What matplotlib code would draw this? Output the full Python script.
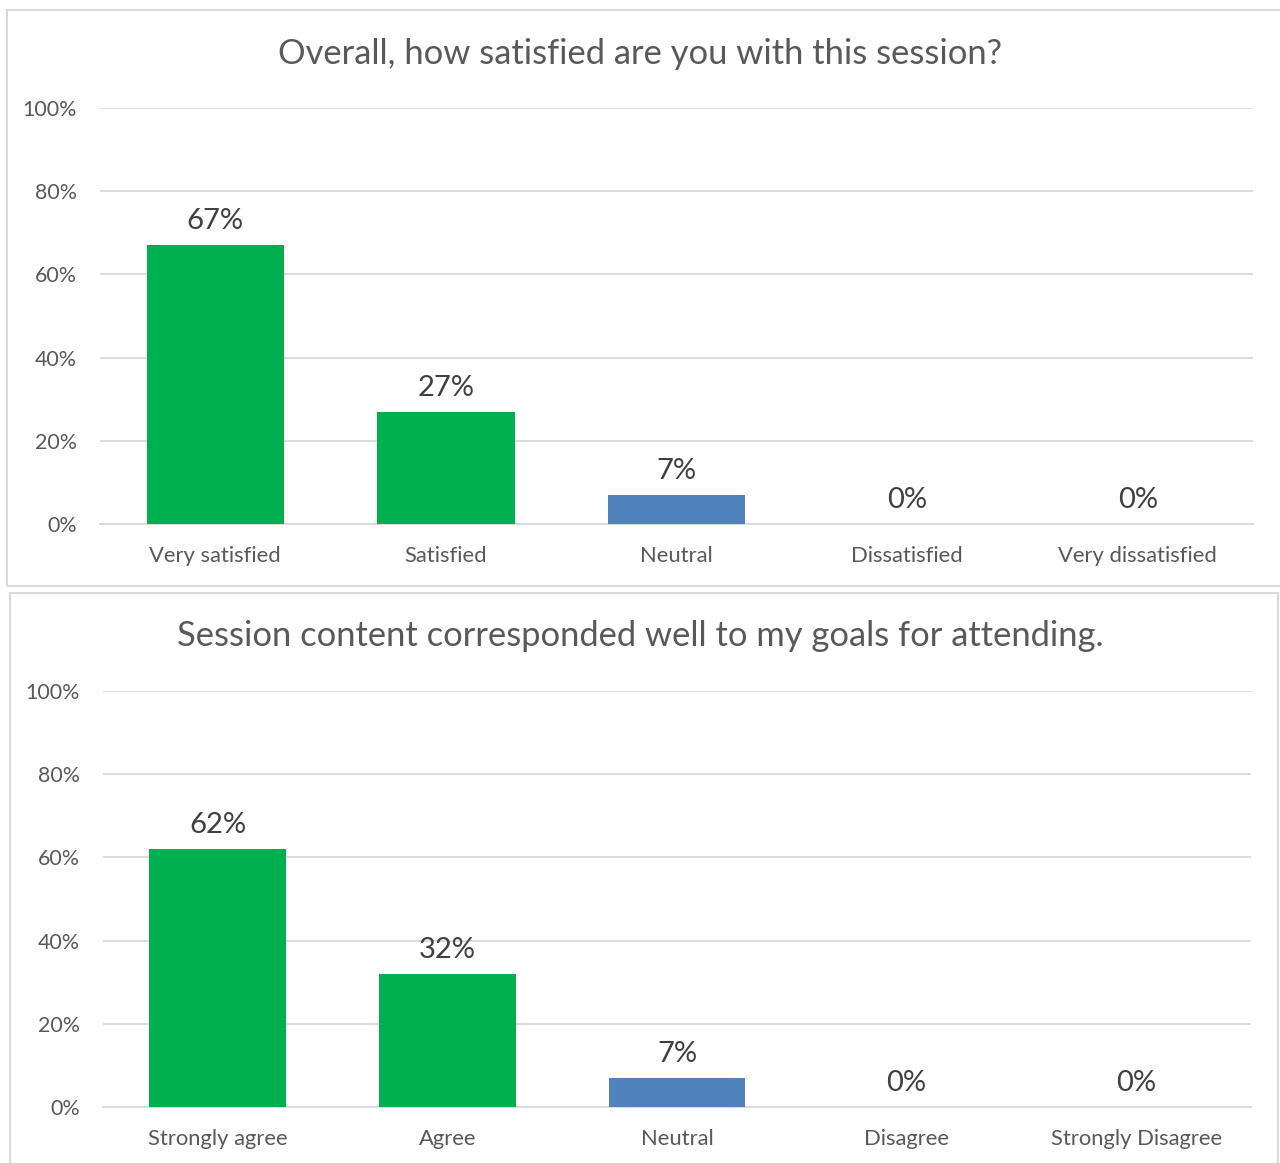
import matplotlib
matplotlib.use("Agg")
import matplotlib.pyplot as plt
from matplotlib.patches import Rectangle

plt.rcParams['font.family'] = ['Lato', 'DejaVu Sans']

title1 = "Overall, how satisfied are you with this session?"
cats1 = ["Very satisfied", "Satisfied", "Neutral", "Dissatisfied", "Very dissatisfied"]
vals1 = [67, 27, 7, 0, 0]
labels1 = ["67%", "27%", "7%", "0%", "0%"]

title2 = "Session content corresponded well to my goals for attending."
cats2 = ["Strongly agree", "Agree", "Neutral", "Disagree", "Strongly Disagree"]
vals2 = [62, 32, 7, 0, 0]
labels2 = ["62%", "32%", "7%", "0%", "0%"]

yticks = [0, 20, 40, 60, 80, 100]
ytick_labels = ["0%", "20%", "40%", "60%", "80%", "100%"]

GREEN = "#00B050"
BLUE = "#4F81BD"
bar_colors = [GREEN, GREEN, BLUE, BLUE, BLUE]

W, H = 1280, 1163
fig = plt.figure(figsize=(W / 100, H / 100), dpi=100)

def px_rect(x0, y0, x1, y1):
    return Rectangle((x0 / W, 1 - y1 / H), (x1 - x0) / W, (y1 - y0) / H,
                     transform=fig.transFigure, fill=False, edgecolor="#D9D9D9",
                     linewidth=1.5)

fig.patches.append(px_rect(7, 10, 1285, 586))
fig.patches.append(px_rect(10, 593, 1278, 1170))

def draw(ax_px, cats, vals, labels, title, title_y):
    x0, x1, ytop, ybot = ax_px
    ax = fig.add_axes([x0 / W, 1 - ybot / H, (x1 - x0) / W, (ybot - ytop) / H])
    xs = list(range(len(cats)))
    ax.bar(xs, vals, width=0.595, color=bar_colors, zorder=3)
    ax.set_xlim(-0.5, len(cats) - 0.5)
    ax.set_ylim(0, 100)
    ax.set_yticks(yticks)
    ax.set_yticklabels(ytick_labels)
    ax.set_xticks(xs)
    ax.set_xticklabels(cats)
    ax.grid(axis='y', color="#D9D9D9", linewidth=1.3, zorder=0)
    ax.set_axisbelow(True)
    for s in ["top", "right", "left"]:
        ax.spines[s].set_visible(False)
    ax.spines["bottom"].set_color("#D9D9D9")
    ax.spines["bottom"].set_linewidth(1.3)
    ax.tick_params(axis='y', length=0, colors="#595959", labelsize=15.4, pad=16.5)
    ax.tick_params(axis='x', length=0, colors="#595959", labelsize=15.8, pad=16)
    for x, v, lab in zip(xs, vals, labels):
        ax.annotate(lab, (x, v), xytext=(0, 8), textcoords="offset points",
                    ha="center", va="bottom", fontsize=21, color="#404040")
    fig.text(0.5, 1 - title_y / H, title, ha="center", va="center",
             fontsize=24.8, color="#595959")
    return ax

draw((100, 1253, 108, 524), cats1, vals1, labels1, title1, 54)
draw((103, 1251, 691, 1107), cats2, vals2, labels2, title2, 636)

fig.savefig("out.png", dpi=100, facecolor="white")
